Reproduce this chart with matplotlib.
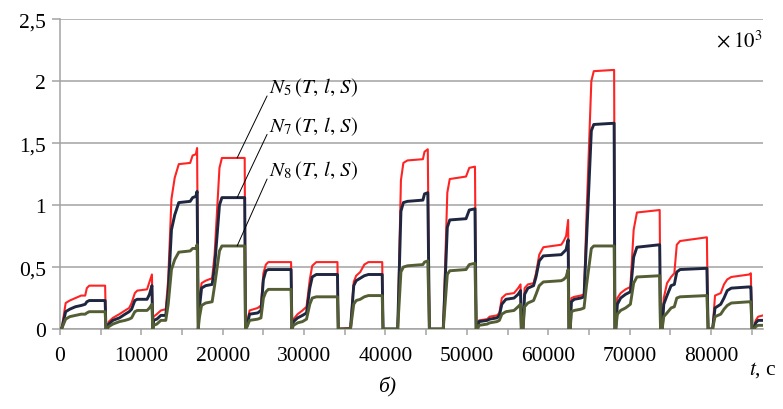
import numpy as np
import matplotlib
matplotlib.use("Agg")
import matplotlib.pyplot as plt
from matplotlib.ticker import MultipleLocator, FuncFormatter

plt.rcParams['font.family'] = ['Liberation Serif', 'DejaVu Serif']
plt.rcParams['mathtext.fontset'] = 'stix'

# time, s
t = [0, 250, 700, 1200, 1900, 2600, 3100, 3300, 3600, 5550, 5650,
     5750, 6000, 6500, 7300, 8000, 8500, 8800, 9200, 9500, 10700, 11000, 11300, 11400,
     11500, 11900, 12400, 13000, 13300, 13700, 14100, 14600, 16000, 16300, 16700, 16850, 17000,
     17100, 17400, 17900, 18700, 19000, 19600, 19900, 22700, 22800,
     23000, 23300, 24300, 24700, 25000, 25300, 25600, 28400, 28500,
     28700, 29200, 29800, 30300, 30700, 31000, 31500, 34100, 34200,
     35700, 36100, 36400, 36900, 37400, 37900, 39600, 39700,
     41500, 41900, 42200, 42700, 44600, 44800, 45200, 45400,
     47100, 47600, 47900, 49900, 50300, 51000, 51150,
     51300, 51500, 52500, 52800, 53700, 54000, 54300, 54800, 55800, 56300, 56600, 56700,
     56900, 57100, 57500, 58200, 58500, 58900, 59400, 61600, 61900, 62200, 62450, 62550,
     62700, 62850, 63200, 64000, 64400, 64700, 65300, 65600, 68100, 68200,
     68300, 68500, 68900, 69500, 70100, 70500, 70900, 73700, 73800,
     74000, 74200, 74600, 75100, 75500, 75800, 76200, 79500, 79650,
     80200, 80500, 81200, 81600, 82000, 82500, 84700, 84900, 85050,
     85300, 85500, 85800, 86400]

# N5(T, l, S), x 10^3
n5 = [0, 0.02, 0.21, 0.23, 0.25, 0.27, 0.27, 0.33, 0.35, 0.35, 0,
      0, 0.06, 0.09, 0.12, 0.15, 0.17, 0.21, 0.29, 0.31, 0.32, 0.38, 0.44, 0,
      0.10, 0.12, 0.15, 0.16, 0.40, 1.05, 1.22, 1.33, 1.34, 1.40, 1.41, 1.46, 0,
      0.20, 0.37, 0.39, 0.41, 0.60, 1.30, 1.38, 1.38, 0,
      0.05, 0.15, 0.17, 0.19, 0.45, 0.52, 0.54, 0.54, 0,
      0.08, 0.12, 0.15, 0.18, 0.40, 0.51, 0.54, 0.54, 0,
      0.01, 0.38, 0.43, 0.46, 0.52, 0.54, 0.54, 0,
      0, 1.20, 1.34, 1.36, 1.37, 1.43, 1.45, 0,
      0, 1.10, 1.21, 1.23, 1.30, 1.31, 0,
      0, 0.07, 0.08, 0.10, 0.11, 0.13, 0.25, 0.28, 0.29, 0.33, 0.36, 0,
      0, 0.33, 0.36, 0.37, 0.45, 0.60, 0.66, 0.68, 0.71, 0.75, 0.88, 0,
      0, 0.25, 0.26, 0.27, 0.28, 0.90, 2.00, 2.08, 2.09, 0,
      0, 0.25, 0.29, 0.32, 0.34, 0.80, 0.94, 0.96, 0,
      0, 0.25, 0.37, 0.42, 0.45, 0.68, 0.71, 0.74, 0,
      0, 0.27, 0.29, 0.36, 0.40, 0.42, 0.44, 0.45, 0,
      0, 0.07, 0.10, 0.11]

# N7(T, l, S), x 10^3
n7 = [0, 0.01, 0.14, 0.16, 0.18, 0.19, 0.20, 0.22, 0.23, 0.23, 0,
      0, 0.04, 0.07, 0.09, 0.12, 0.14, 0.16, 0.23, 0.24, 0.24, 0.28, 0.35, 0,
      0.07, 0.08, 0.11, 0.11, 0.30, 0.80, 0.92, 1.02, 1.03, 1.06, 1.07, 1.11, 0,
      0.15, 0.33, 0.35, 0.36, 0.50, 1.00, 1.06, 1.06, 0,
      0.03, 0.12, 0.13, 0.15, 0.40, 0.47, 0.48, 0.48, 0,
      0.06, 0.09, 0.11, 0.13, 0.33, 0.42, 0.44, 0.44, 0,
      0, 0.35, 0.39, 0.41, 0.43, 0.44, 0.44, 0,
      0, 0.95, 1.02, 1.03, 1.04, 1.09, 1.10, 0,
      0, 0.82, 0.88, 0.89, 0.96, 0.97, 0,
      0, 0.06, 0.07, 0.08, 0.09, 0.11, 0.20, 0.24, 0.25, 0.28, 0.31, 0,
      0, 0.28, 0.33, 0.35, 0.42, 0.55, 0.59, 0.60, 0.62, 0.64, 0.72, 0,
      0, 0.22, 0.24, 0.25, 0.26, 0.70, 1.60, 1.65, 1.66, 0,
      0, 0.20, 0.25, 0.28, 0.30, 0.58, 0.66, 0.68, 0,
      0, 0.20, 0.27, 0.35, 0.36, 0.46, 0.48, 0.49, 0,
      0, 0.17, 0.20, 0.25, 0.31, 0.33, 0.34, 0.34, 0,
      0, 0.05, 0.07, 0.07]

# N8(T, l, S), x 10^3
n8 = [0, 0.01, 0.08, 0.10, 0.11, 0.12, 0.12, 0.13, 0.14, 0.14, 0,
      0, 0.02, 0.04, 0.06, 0.07, 0.08, 0.09, 0.14, 0.15, 0.15, 0.17, 0.20, 0,
      0.03, 0.04, 0.07, 0.07, 0.20, 0.48, 0.56, 0.62, 0.63, 0.65, 0.65, 0.68, 0,
      0.08, 0.19, 0.21, 0.22, 0.35, 0.63, 0.67, 0.67, 0,
      0.02, 0.07, 0.08, 0.09, 0.25, 0.30, 0.32, 0.32, 0,
      0.03, 0.05, 0.06, 0.08, 0.20, 0.25, 0.26, 0.26, 0,
      0, 0.20, 0.23, 0.24, 0.26, 0.27, 0.27, 0,
      0, 0.46, 0.50, 0.51, 0.52, 0.54, 0.55, 0,
      0, 0.44, 0.47, 0.48, 0.52, 0.53, 0,
      0, 0.03, 0.04, 0.05, 0.06, 0.07, 0.12, 0.14, 0.15, 0.18, 0.20, 0,
      0, 0.18, 0.21, 0.23, 0.28, 0.35, 0.38, 0.39, 0.40, 0.42, 0.48, 0,
      0, 0.14, 0.15, 0.16, 0.17, 0.35, 0.65, 0.67, 0.67, 0,
      0, 0.12, 0.15, 0.17, 0.20, 0.37, 0.42, 0.43, 0,
      0, 0.10, 0.13, 0.17, 0.18, 0.25, 0.26, 0.27, 0,
      0, 0.10, 0.12, 0.16, 0.19, 0.21, 0.22, 0.22, 0,
      0, 0.02, 0.03, 0.03]

labels = [r'$N_5\,(T,\,l,\,S)$', r'$N_7\,(T,\,l,\,S)$', r'$N_8\,(T,\,l,\,S)$']
label_t = 25700          # where the label text sits
label_y = [1.91, 1.60, 1.24]
point_t = 21770          # leader lines end on the plateau here

grey = '#a3a3a3'

fig = plt.figure(figsize=(7.83, 4.10), dpi=100)
ax = fig.add_axes([0.0766, 0.195, 0.8979, 0.756])

ax.plot(t, n5, color='#ff2424', lw=1.5, zorder=3)
ax.plot(t, n7, color='#1e2640', lw=2.1, zorder=4)
ax.plot(t, n8, color='#545e34', lw=2.1, zorder=5)

ax.set_xlim(0, 86400)
ax.set_ylim(0, 2.5)

ax.xaxis.set_major_locator(MultipleLocator(10000))
ax.xaxis.set_minor_locator(MultipleLocator(5000))
ax.yaxis.set_major_locator(MultipleLocator(0.5))
ax.yaxis.set_major_formatter(FuncFormatter(lambda v, p: ('%g' % v).replace('.', ',')))
ax.xaxis.set_major_formatter(FuncFormatter(lambda v, p: '%d' % v))

ax.grid(True, axis='y', color=grey, lw=1.1, zorder=0)
ax.set_axisbelow(True)
for s in ['top', 'right']:
    ax.spines[s].set_visible(False)
for s in ['left', 'bottom']:
    ax.spines[s].set_color(grey)
    ax.spines[s].set_linewidth(1.1)

ax.tick_params(axis='y', which='major', length=6, width=1.1, color=grey,
               labelsize=15.5, pad=4)
ax.tick_params(axis='x', which='both', length=4, width=1.1, color=grey,
               labelsize=15.5, pad=8)

# curve labels with leader lines
for series, txt, ly in zip([n5, n7, n8], labels, label_y):
    py = np.interp(point_t, t, series)
    ax.annotate('', xy=(point_t, py), xytext=(label_t - 250, ly - 0.03),
                arrowprops=dict(arrowstyle='-', color='black', lw=0.7,
                                shrinkA=0, shrinkB=0), zorder=6)
    ax.text(label_t, ly, txt, fontsize=15, ha='left', va='baseline', zorder=6)

fig.text(0.9745, 0.898, r'$\times\;10^3$', fontsize=15, ha='right', va='center')
fig.text(0.992, 0.098, r'$t$, c', fontsize=15.5, ha='right', va='center')
fig.text(0.494, 0.056, 'б)', fontsize=15.5, style='italic', ha='center', va='center')

fig.savefig('out.png', dpi=100)
